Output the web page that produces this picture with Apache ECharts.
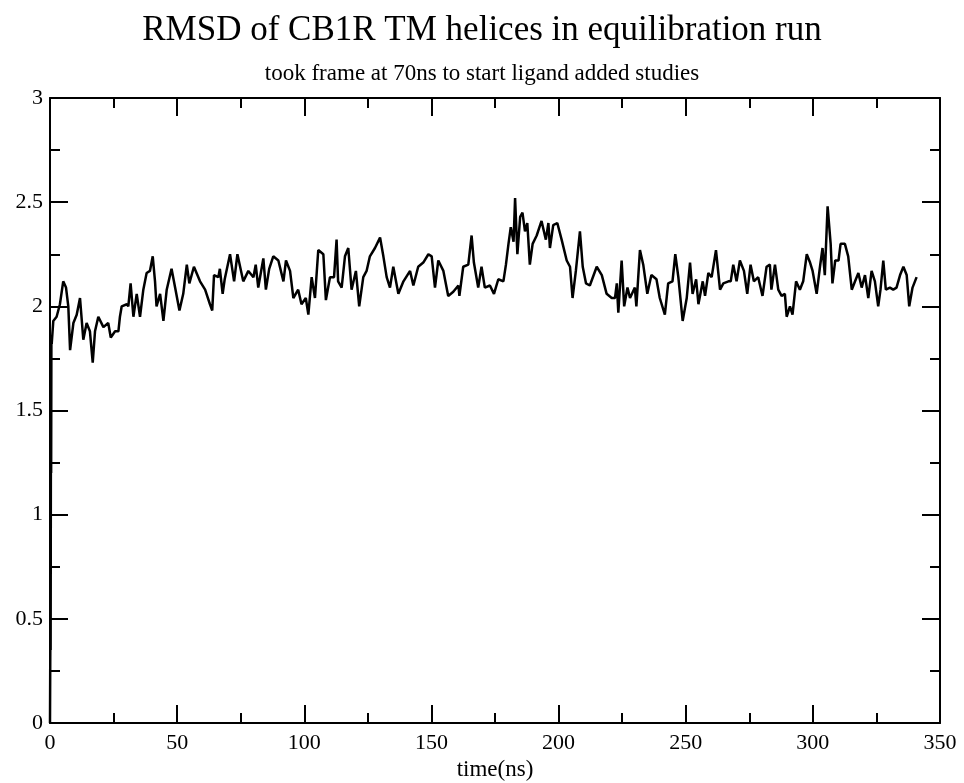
<!DOCTYPE html>
<html>
<head>
<meta charset="utf-8">
<title>RMSD of CB1R TM helices</title>
<script src="https://cdn.jsdelivr.net/npm/echarts@6/dist/echarts.min.js"></script>
<style>
html, body { margin: 0; padding: 0; background: #fff; }
#main { width: 964px; height: 783px; }
</style>
</head>
<body>
<div id="main"></div>
<script>
//时间 (ns)
var times = [0, 0.15, 0.25, 0.35, 0.45, 0.55, 0.67, 1.3, 2.6, 3.9, 5.2, 6.3, 7.2, 7.9, 9.2, 10.5, 11.8, 13.1, 14.4, 15.7,
  16.8, 17.7, 19, 21, 22.9, 23.9, 25.6, 26.9, 27.5, 28.2, 30.2, 30.8, 31.7, 32.8, 34.1, 35.4, 36.7, 38, 39.3, 40.4,
  41.3, 41.9, 43.3, 44.6, 45.9, 47.8, 49.2, 50.9, 52.4, 53.8, 54.8, 56.6, 59, 61, 62.9, 63.8, 64.5, 66.2, 66.8, 67.9,
  68.7, 70.8, 72.4, 73.7, 76, 78, 80, 80.9, 81.9, 83.9, 84.9, 86.2, 87.8, 89.8, 91.8, 92.8, 94.4, 95.7, 97.6, 98.9,
  100.6, 101.6, 102.9, 104.2, 105.5, 107.5, 108.5, 110.1, 111.7, 112.7, 113.3, 114.7, 116, 117.3, 118.6, 120.3, 121.6, 123.2, 124.5, 125.8,
  127.8, 129.8, 131.1, 132.4, 133.7, 135, 137, 139, 141.6, 142.9, 144.8, 146.8, 148.8, 150.1, 151.4, 152.7, 154.7, 156.6, 158.6, 160.6,
  161, 162.5, 164.5, 165.8, 166.7, 168.4, 169.7, 171, 173, 174.6, 176.3, 178.3, 179.3, 180.3, 181.2, 182.3, 182.9, 183.8, 184.9, 185.8,
  186.8, 187.7, 188.7, 189.8, 191.4, 193.3, 195, 196, 196.6, 197.9, 199.5, 201.2, 203.2, 204.5, 205.5, 206.8, 208.4, 209.5, 210.8, 212.3,
  215, 217, 218.9, 220.9, 222.2, 222.9, 223.5, 224.8, 225.8, 227.1, 228.1, 230, 230.6, 232, 233.3, 234.9, 236.5, 238.5, 239.8, 241.8,
  243.1, 244.8, 245.9, 247.1, 248.8, 250.4, 251.7, 252.7, 254.1, 255, 256.7, 257.6, 258.9, 260.2, 261.9, 263.5, 264.8, 266.8, 267.7, 268.7,
  270, 271.3, 272.9, 274.2, 275.5, 276.8, 278.5, 280.2, 281.8, 283.1, 283.7, 285.1, 286.4, 287.7, 289, 289.7, 291, 292, 293.4, 294.9,
  296.2, 297.6, 298.9, 299.9, 301.5, 302.8, 303.8, 304.7, 305.8, 307, 307.7, 308.8, 310.1, 310.9, 312.6, 313.9, 315.3, 316.6, 317.9, 319.2,
  320.5, 321.8, 323.1, 324.4, 325.7, 326.6, 327.7, 328.7, 330.3, 331.6, 332.9, 334.3, 335.6, 336.9, 337.9, 339.2, 340.8];
//RMSD值
var rmsd = [0, 0.45, 0.35, 1.3, 1.2, 1.85, 1.82, 1.93, 1.95, 2.01, 2.12, 2.09, 2.00, 1.79, 1.92, 1.96, 2.04, 1.84, 1.92, 1.88,
  1.73, 1.88, 1.95, 1.90, 1.92, 1.85, 1.88, 1.88, 1.95, 2.00, 2.01, 2.00, 2.11, 1.95, 2.06, 1.95, 2.08, 2.16, 2.17, 2.24,
  2.12, 2.00, 2.06, 1.93, 2.08, 2.18, 2.09, 1.98, 2.06, 2.20, 2.11, 2.19, 2.12, 2.08, 2.01, 1.98, 2.15, 2.14, 2.18, 2.06,
  2.13, 2.25, 2.12, 2.25, 2.12, 2.17, 2.14, 2.20, 2.09, 2.23, 2.08, 2.18, 2.24, 2.22, 2.12, 2.22, 2.17, 2.04, 2.08, 2.01,
  2.04, 1.96, 2.14, 2.04, 2.27, 2.25, 2.03, 2.14, 2.14, 2.32, 2.12, 2.09, 2.24, 2.28, 2.08, 2.17, 2.00, 2.14, 2.17, 2.24,
  2.28, 2.33, 2.24, 2.14, 2.09, 2.19, 2.06, 2.12, 2.17, 2.10, 2.19, 2.21, 2.25, 2.24, 2.09, 2.22, 2.17, 2.05, 2.07, 2.10,
  2.05, 2.19, 2.20, 2.34, 2.21, 2.09, 2.19, 2.09, 2.10, 2.06, 2.13, 2.12, 2.20, 2.30, 2.38, 2.31, 2.52, 2.25, 2.43, 2.45,
  2.36, 2.40, 2.20, 2.30, 2.34, 2.41, 2.32, 2.40, 2.28, 2.39, 2.40, 2.32, 2.22, 2.19, 2.04, 2.17, 2.36, 2.19, 2.11, 2.10,
  2.19, 2.15, 2.06, 2.04, 2.04, 2.11, 1.97, 2.22, 2.00, 2.09, 2.04, 2.09, 2.00, 2.27, 2.20, 2.06, 2.15, 2.13, 2.04, 1.96,
  2.11, 2.12, 2.25, 2.14, 1.93, 2.04, 2.21, 2.06, 2.13, 2.01, 2.12, 2.05, 2.16, 2.14, 2.27, 2.08, 2.11, 2.12, 2.12, 2.20,
  2.12, 2.22, 2.17, 2.06, 2.20, 2.12, 2.14, 2.05, 2.19, 2.20, 2.08, 2.20, 2.08, 2.05, 2.06, 1.95, 2.00, 1.96, 2.12, 2.08,
  2.12, 2.25, 2.21, 2.17, 2.06, 2.19, 2.28, 2.15, 2.48, 2.30, 2.11, 2.22, 2.22, 2.30, 2.30, 2.24, 2.08, 2.12, 2.16, 2.09,
  2.15, 2.04, 2.17, 2.12, 2.00, 2.08, 2.22, 2.08, 2.09, 2.08, 2.09, 2.15, 2.19, 2.15, 2.00, 2.09, 2.14];

var xTicks = [0, 50, 100, 150, 200, 250, 300, 350];
var yTicks = [0, 0.5, 1, 1.5, 2, 2.5, 3];

var fontName = 'Liberation Serif';

var seriesData = [];
for (var i = 0; i < times.length; i++) {
  seriesData.push([times[i], rmsd[i]]);
}

//坐标轴公共样式
var frameAxis = function (opts) {
  var axis = {
    type: 'value',
    axisLine: { show: true, onZero: false, lineStyle: { color: '#000', width: 2 } },
    axisTick: { show: true, inside: true, length: 18, lineStyle: { color: '#000', width: 2 } },
    minorTick: { show: true, splitNumber: 2, length: 10, lineStyle: { color: '#000', width: 2 } },
    splitLine: { show: false },
    axisLabel: { show: false }
  };
  for (var k in opts) axis[k] = opts[k];
  return axis;
};

var xLabelStyle = { show: true, color: '#000', fontFamily: fontName, fontSize: 22, margin: 9 };
var yLabelStyle = { show: true, color: '#000', fontFamily: fontName, fontSize: 22, margin: 7 };

var myChart = echarts.init(document.getElementById('main'));

var option = {
  animation: false,
  backgroundColor: '#fff',
  title: {
    text: 'RMSD of CB1R TM helices in equilibration run',
    subtext: 'took frame at 70ns to start ligand added studies',
    left: 'center',
    top: 8,
    itemGap: 14,
    textStyle: { color: '#000', fontFamily: fontName, fontSize: 35, fontWeight: 'normal' },
    subtextStyle: { color: '#000', fontFamily: fontName, fontSize: 23 }
  },
  grid: { left: 50, right: 24, top: 98, bottom: 60, containLabel: false, outerBoundsMode: 'none' },
  xAxis: [
    frameAxis({
      min: 0, max: 350, interval: 50, position: 'bottom',
      name: 'time(ns)', nameLocation: 'middle', nameGap: 43,
      nameTextStyle: { color: '#000', fontFamily: fontName, fontSize: 23, verticalAlign: 'middle' },
      axisLabel: xLabelStyle
    }),
    frameAxis({ min: 0, max: 350, interval: 50, position: 'top' })
  ],
  yAxis: [
    frameAxis({ min: 0, max: 3, interval: 0.5, position: 'left', axisLabel: yLabelStyle }),
    frameAxis({ min: 0, max: 3, interval: 0.5, position: 'right' })
  ],
  series: [
    {
      name: 'RMSD',
      type: 'line',
      xAxisIndex: 0,
      yAxisIndex: 0,
      showSymbol: false,
      symbol: 'none',
      lineStyle: { color: '#000', width: 2.5 },
      data: seriesData
    }
  ]
};

myChart.setOption(option);
</script>
</body>
</html>
